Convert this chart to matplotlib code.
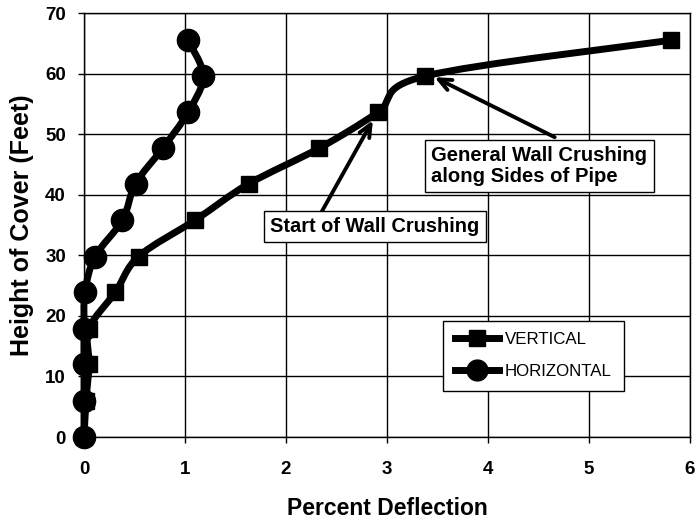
import numpy as np
import matplotlib
matplotlib.use("Agg")
import matplotlib.pyplot as plt
from matplotlib.path import Path
from matplotlib.patches import PathPatch
from matplotlib.lines import Line2D

plt.rcParams['font.family'] = ['Liberation Sans', 'DejaVu Sans']

height = [0, 6, 12, 17.9, 23.9, 29.8, 35.8, 41.8, 47.7, 53.6, 59.6, 65.5]
vertical = [0.0, 0.02, 0.05, 0.05, 0.31, 0.54, 1.10, 1.63, 2.33, 2.91, 3.38, 5.81]
horizontal = [0.0, 0.0, 0.0, 0.0, 0.01, 0.11, 0.38, 0.51, 0.78, 1.03, 1.18, 1.03]

x_ticks = [0, 1, 2, 3, 4, 5, 6]
y_ticks = [0, 10, 20, 30, 40, 50, 60, 70]


def smooth_path(xs, ys):
    P = np.column_stack([xs, ys]).astype(float)
    n = len(P)
    verts = [P[0]]
    codes = [Path.MOVETO]
    for i in range(n - 1):
        p0 = P[i - 1] if i > 0 else P[i]
        p1 = P[i]
        p2 = P[i + 1]
        p3 = P[i + 2] if i + 2 < n else P[i + 1]
        c1 = p1 + (p2 - p0) / 6.0
        c2 = p2 - (p3 - p1) / 6.0
        verts += [c1, c2, p2]
        codes += [Path.CURVE4] * 3
    return Path(verts, codes)


fig = plt.figure(figsize=(6.96, 5.23), dpi=100)
ax = fig.add_axes([0.1207, 0.1644, 0.8707, 0.8107])

ax.set_xlim(0, 6)
ax.set_ylim(0, 70)
ax.set_xticks(x_ticks)
ax.set_yticks(y_ticks)
ax.grid(True, color='black', linewidth=1.0)
ax.set_axisbelow(True)
for s in ax.spines.values():
    s.set_color('black')
    s.set_linewidth(1.0)
ax.tick_params(direction='out', length=4, width=1.0, colors='black',
               labelsize=13.5)
ax.tick_params(axis='x', pad=13)
ax.tick_params(axis='y', pad=9)
for lab in ax.get_xticklabels() + ax.get_yticklabels():
    lab.set_fontweight('bold')

lw = 5
for xs, marker, ms in [(vertical, 's', 11), (horizontal, 'o', 16)]:
    ax.add_patch(PathPatch(smooth_path(xs, height), facecolor='none',
                           edgecolor='black', linewidth=lw, zorder=3,
                           clip_on=False))
    ax.plot(xs, height, linestyle='none', marker=marker, markersize=ms,
            color='black', zorder=4, clip_on=False)

handles = [Line2D([], [], color='black', lw=lw, marker='s', markersize=11),
           Line2D([], [], color='black', lw=lw, marker='o', markersize=15)]
leg = ax.legend(handles, ['VERTICAL', 'HORIZONTAL'],
                loc='lower left', bbox_to_anchor=(0.592, 0.108, 0.299, 0.172),
                mode='expand', frameon=True, fancybox=False, framealpha=1,
                edgecolor='black', fontsize=12.2, handlelength=2.6,
                borderaxespad=0, labelspacing=1.0, handletextpad=0.35,
                borderpad=0.7)
leg.get_frame().set_linewidth(1.0)

box = dict(boxstyle='square,pad=0.3', facecolor='white', edgecolor='black', lw=1.0)
arrow = dict(arrowstyle='->,head_length=0.9,head_width=0.4', color='black', lw=2.8,
             shrinkA=0, shrinkB=0)

ax.annotate('', xy=(2.86, 52.3), xytext=(2.33, 36.5), arrowprops=arrow, zorder=6)
ax.text(2.88, 34.8, 'Start of Wall Crushing', ha='center', va='center',
        fontsize=14.4, fontweight='bold', bbox=box, zorder=7)

ax.annotate('', xy=(3.47, 59.4), xytext=(4.66, 49.5), arrowprops=arrow, zorder=6)
ax.text(3.44, 44.7, 'General Wall Crushing\nalong Sides of Pipe', ha='left',
        va='center', fontsize=14.6, fontweight='bold', bbox=box, zorder=7,
        linespacing=1.15)

ax.set_xlabel('Percent Deflection', fontsize=16.5, fontweight='bold', labelpad=14)
ax.set_ylabel('Height of Cover (Feet)', fontsize=18, fontweight='bold', labelpad=8)

fig.savefig('out.png', dpi=100)
